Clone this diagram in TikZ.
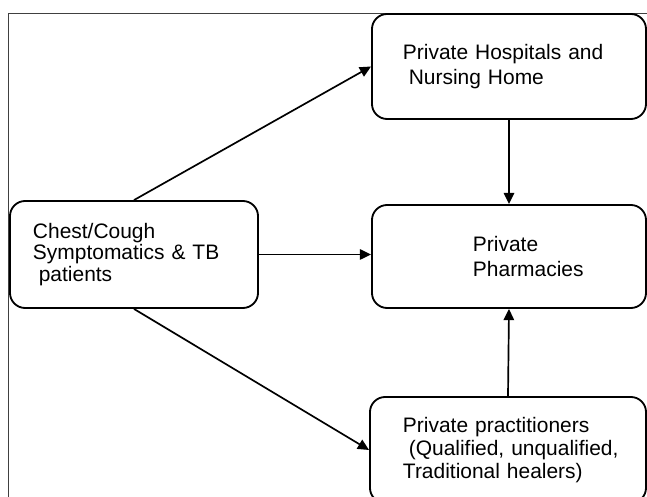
\documentclass[tikz,border=0pt]{standalone}
\usepackage{fontspec}
\setmainfont{Liberation Sans}
\usetikzlibrary{positioning,calc,arrows.meta}
\tikzset{font=\fontsize{14.9pt}{17pt}\selectfont}
\tikzset{
	box/.style={draw, line width=1.3pt, rounded corners=0.38cm, align=left, inner xsep=0pt, inner ysep=2pt},
	textpad/.style={execute at begin node={\leftskip=#1}},
	frameline/.style={draw=black!75, line width=0.6pt},
	>={Triangle[length=0.28cm, width=0.26cm]}
}

\begin{document}
\begin{tikzpicture}[x=0.025cm, y=-0.025cm]
	\useasboundingbox (0,0) rectangle (647,497);
	\draw[frameline] (8,510) |- (660,13);
	\begin{scope}
		\tikzstyle{every path}=[line width=1.2pt]
		\node[box, text width=6.85cm, minimum height=2.625cm, textpad=0.775cm, font=\fontsize{14.9pt}{17.8pt}\selectfont] (hosp) at (509, 66.5) {Private Hospitals and\\\hspace*{.28em}Nursing Home};
		\node[box, text width=6.85cm, minimum height=2.575cm, textpad=2.525cm, font=\fontsize{14.9pt}{17.8pt}\selectfont] (pharm) at (509, 256.5) {Private\\Pharmacies};
		\node[box, text width=6.2cm, minimum height=2.675cm, textpad=0.575cm, font=\fontsize{14.9pt}{15.3pt}\selectfont] (chest) at (134, 254.5) {Chest/Cough\\Symptomatics \& TB\\\hspace*{.28em}patients};
		\node[box, text width=6.9cm, minimum height=2.65cm, textpad=0.825cm, font=\fontsize{14.9pt}{16.3pt}\selectfont] (pract) at (508, 450) {Private practitioners\\\hspace*{.28em}(Qualified, unqualified,\\Traditional healers)};

		\draw[->] (chest.north) -- (hosp.west);
		\draw[->] (chest.east) -- (chest.east -| pharm.west);
		\draw[->] (chest.south) -- (pract.west);
		\draw[->] (hosp.south) -- (pharm.north);
		\draw[->] (pract.north) -- (pharm.south);

	\end{scope}
\end{tikzpicture}
\end{document}
